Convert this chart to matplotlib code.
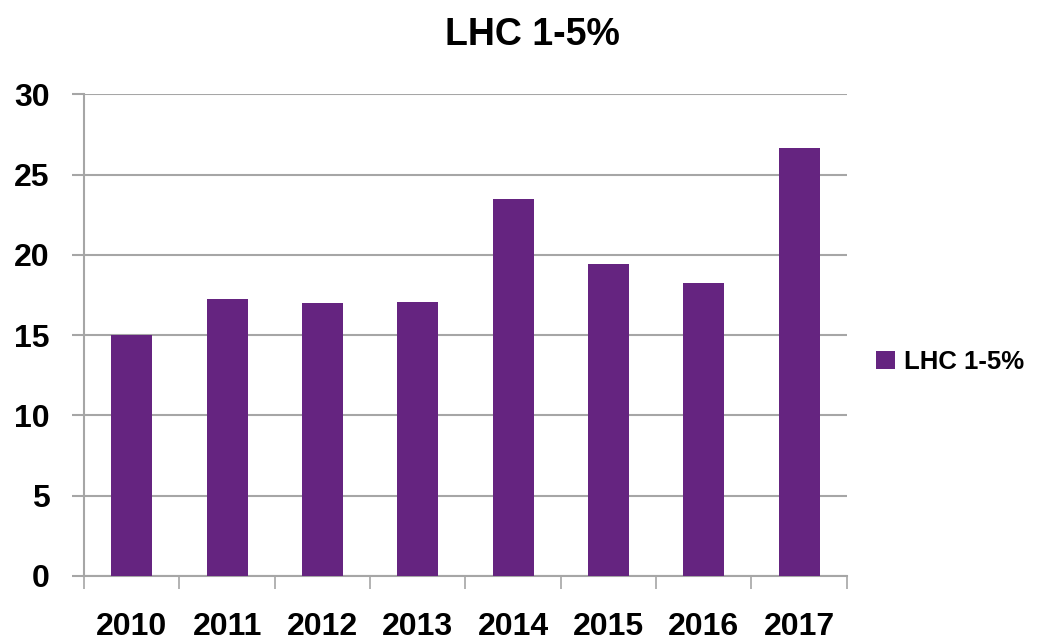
import matplotlib
matplotlib.use("Agg")
import matplotlib.pyplot as plt
import numpy as np

years = ["2010", "2011", "2012", "2013", "2014", "2015", "2016", "2017"]
values = [15.0, 17.25, 17.0, 17.05, 23.45, 19.45, 18.25, 26.65]
series_name = "LHC 1-5%"

BAR = "#652480"
GRID = "#a6a6a6"
FONT = ["Liberation Sans", "DejaVu Sans"]

plt.rcParams["font.family"] = FONT
plt.rcParams["font.weight"] = "bold"

fig = plt.figure(figsize=(10.39, 6.44), dpi=100)
ax = fig.add_axes([0.081, 0.1056, 0.734, 0.748])

x = np.arange(len(years))
ax.bar(x, values, width=0.43, color=BAR, label=series_name, zorder=3)

ax.set_xlim(-0.5, len(years) - 0.5)
ax.set_ylim(0, 30)
ax.set_yticks(range(0, 31, 5))
ax.set_xticks(x)
ax.set_xticklabels(years)
ax.set_xticks(np.arange(-0.5, len(years), 1), minor=True)

ax.grid(axis="y", color=GRID, linewidth=1.5, zorder=0)
for s in ["top", "right"]:
    ax.spines[s].set_visible(False)
for s in ["left", "bottom"]:
    ax.spines[s].set_color(GRID)
    ax.spines[s].set_linewidth(1.5)

ax.tick_params(axis="y", length=9, width=1.5, color=GRID, pad=16,
               labelsize=23, labelcolor="black")
ax.tick_params(axis="x", which="major", length=0, pad=26,
               labelsize=23, labelcolor="black")
ax.tick_params(axis="x", which="minor", length=9, width=1.2, color=GRID)

fig.text(0.512, 0.945, series_name, ha="center", va="center",
         fontsize=27, fontweight="bold")

fig.legend(loc="center left", bbox_to_anchor=(0.833, 0.438), frameon=False,
           borderaxespad=0, handlelength=0.75, handleheight=0.75,
           handletextpad=0.35, prop={"weight": "bold", "size": 18.5})

fig.savefig("out.png", dpi=100, facecolor="white")
